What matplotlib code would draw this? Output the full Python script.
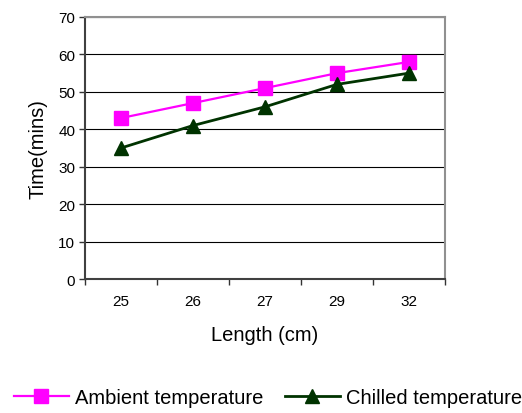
import matplotlib
matplotlib.use("Agg")
import matplotlib.pyplot as plt
import numpy as np

LENGTHS = ["25", "26", "27", "29", "32"]
AMBIENT_TIME = [43, 47, 51, 55, 58]
CHILLED_TIME = [35, 41, 46, 52, 55]
Y_TICKS = [0, 10, 20, 30, 40, 50, 60, 70]

plt.rcParams["font.family"] = ["Liberation Sans", "DejaVu Sans"]


def main():
    fig = plt.figure(figsize=(5.22, 4.14), dpi=100)
    ax = fig.add_axes([85 / 522, 134 / 414, 360 / 522, 262 / 414])

    x = np.arange(len(LENGTHS))
    ax.plot(x, AMBIENT_TIME, color="#ff00ff", lw=1.6, marker="s", markersize=10.5,
            label="Ambient temperature", zorder=3)
    ax.plot(x, CHILLED_TIME, color="#003300", lw=2.0, marker="^", markersize=10.5,
            label="Chilled temperature", zorder=3)

    ax.set_xlim(-0.5, len(LENGTHS) - 0.5)
    ax.set_ylim(0, 70)
    ax.set_yticks(Y_TICKS)
    ax.yaxis.grid(True, color="black", lw=0.8)
    ax.set_axisbelow(True)

    # category labels in the middle, tick marks on the boundaries
    ax.set_xticks(np.arange(len(LENGTHS) + 1) - 0.5)
    ax.set_xticklabels([])
    ax.set_xticks(x, minor=True)
    ax.set_xticklabels(LENGTHS, minor=True)
    ax.tick_params(axis="x", which="minor", length=0, pad=11, labelsize=11)
    ax.tick_params(axis="x", which="major", length=4, width=1, color="#333333")
    ax.tick_params(axis="y", length=4, width=1, color="#333333", pad=3, labelsize=11)

    for side in ["top", "right"]:
        ax.spines[side].set_color("#909090")
        ax.spines[side].set_linewidth(1.5)
    for side in ["left", "bottom"]:
        ax.spines[side].set_color("#404040")
        ax.spines[side].set_linewidth(1.5)

    ax.set_xlabel("Length (cm)", fontsize=14.5, labelpad=12)
    ax.set_ylabel("Time(mins)", fontsize=14.5, labelpad=8)

    fig.legend(loc="center", bbox_to_anchor=(268 / 522, 15 / 414), ncol=2,
               frameon=False, fontsize=14.5, handlelength=2.7, handletextpad=0.3,
               columnspacing=1.1)

    fig.savefig("out.png", dpi=100)
    plt.close(fig)


if __name__ == "__main__":
    main()
